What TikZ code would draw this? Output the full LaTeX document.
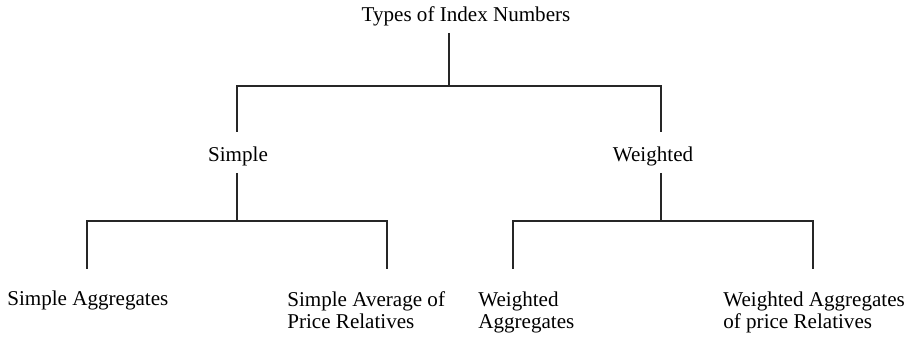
\documentclass[tikz,border=0pt]{standalone}
\usepackage{fontspec}
\setmainfont{Liberation Serif}
\usepackage{tikz}
\usetikzlibrary{positioning, calc}

\begin{document}
\begin{tikzpicture}[
			x=0.02cm, y=-0.02cm,
			every node/.style={font=\fontsize{12}{13}\selectfont, inner sep=0pt},
			head/.style={anchor=base},
			leaf/.style={anchor=base west, align=left},
			link/.style={draw=black!85, line width=0.7pt}
			]
			\useasboundingbox (0,0) rectangle (910,337);
			
			% Root
			\node[head] (root) at (466,22) {Types of Index Numbers};
			
			% Second level
			\node[head] (simple) at (238,162) {Simple};
			\node[head] (weighted) at (653,162) {Weighted};
			
			% Leaves (two-line ones sit on their last line)
			\node[leaf] (sagg) at (7,306) {Simple Aggregates};
			\node[leaf] (savg) at (287,329) {Simple Average of\\Price Relatives};
			\node[leaf] (wagg) at (478,329) {Weighted\\Aggregates};
			\node[leaf] (wavg) at (723,329) {Weighted Aggregates\\of price Relatives};
			
			% Junctions
			\coordinate (rtop) at (449,33);
			\coordinate (rbar) at (449,86);
			\coordinate (sup) at (237,132);
			\coordinate (wup) at (661,132);
			\coordinate (stop) at (237,173);
			\coordinate (sbar) at (237,221);
			\coordinate (wtop) at (661,173);
			\coordinate (wbar) at (661,221);
			\coordinate (saggup) at (87,269);
			\coordinate (savgup) at (387,269);
			\coordinate (waggup) at (513,269);
			\coordinate (wavgup) at (813,269);
			
			% Root to second level
			\draw[link] (rtop) -- (rbar);
			\draw[link] (sup) |- (rbar) -| (wup);
			
			% Simple branch
			\draw[link] (stop) -- (sbar);
			\draw[link] (saggup) |- (sbar) -| (savgup);
			
			% Weighted branch
			\draw[link] (wtop) -- (wbar);
			\draw[link] (waggup) |- (wbar) -| (wavgup);
			
		\end{tikzpicture}
\end{document}
